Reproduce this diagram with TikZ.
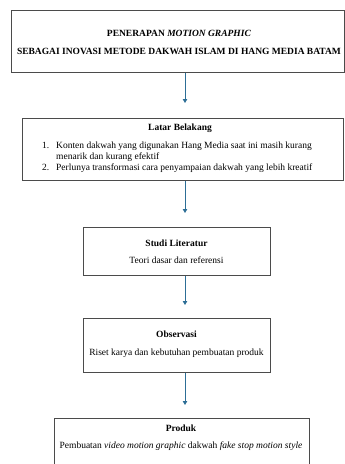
\documentclass[tikz,border=0pt]{standalone}
\usepackage{fontspec}
\setmainfont{Liberation Serif}
\usetikzlibrary{arrows.meta}
\definecolor{boxline}{RGB}{75,75,75}
\definecolor{arrowblue}{RGB}{45,110,150}
\begin{document}
\begin{tikzpicture}[x=1pt,y=-1pt,
  box/.style={draw=boxline,line width=1.4pt,inner sep=0pt,anchor=north west},
  conn/.style={draw=arrowblue,line width=0.8pt,-{Triangle[width=4.5pt,length=4pt]}},
  txt/.style={inner sep=0pt,font=\fontsize{9.5}{11}\selectfont},
]
\useasboundingbox (0,0) rectangle (345,464);
% boxes
\node[box,minimum width=333pt,minimum height=62pt] (b1) at (11,10) {};
\node[box,minimum width=321pt,minimum height=62pt] (b2) at (22,118) {};
\node[box,minimum width=187pt,minimum height=48pt] (b3) at (83,227) {};
\node[box,minimum width=187pt,minimum height=54pt] (b4) at (83,318) {};
\node[box,minimum width=255pt,minimum height=60pt] (b5) at (54,418) {};
% texts
\node[txt] (t1a) at (179,33) {\textbf{PENERAPAN \textit{MOTION GRAPHIC}}};
\node[txt] (t1b) at (179,51) {\textbf{SEBAGAI INOVASI METODE DAKWAH ISLAM DI HANG MEDIA BATAM}};
\node[txt] (t2) at (180,128) {\textbf{Latar Belakang}};
\node[txt,anchor=base west] (n1) at (42,148) {1.};
\node[txt,anchor=base west] (l1) at (56,148) {Konten dakwah yang digunakan Hang Media saat ini masih kurang};
\node[txt,anchor=base west] (l1b) at (56,159) {menarik dan kurang efektif};
\node[txt,anchor=base west] (n2) at (42,170) {2.};
\node[txt,anchor=base west] (l2) at (56,170) {Perlunya transformasi cara penyampaian dakwah yang lebih kreatif};
\node[txt] (t3) at (176.5,243) {\textbf{Studi Literatur}};
\node[txt] (t3b) at (176.5,260) {Teori dasar dan referensi};
\node[txt] (t4) at (176.5,334) {\textbf{Observasi}};
\node[txt] (t4b) at (176.5,353) {Riset karya dan kebutuhan pembuatan produk};
\node[txt] (t5) at (181,428) {\textbf{Produk}};
\node[txt] (t5b) at (181,446) {Pembuatan \textit{video motion graphic} dakwah \textit{fake stop motion style}};
% connectors
\coordinate (a1) at (185,103);
\coordinate (a2) at (185,213);
\coordinate (a3) at (185,305);
\coordinate (a4) at (185,405);
\draw[conn] (b1.south -| a1) -- (a1);
\draw[conn] (b2.south -| a2) -- (a2);
\draw[conn] (b3.south -| a3) -- (a3);
\draw[conn] (b4.south -| a4) -- (a4);
\end{tikzpicture}
\end{document}
